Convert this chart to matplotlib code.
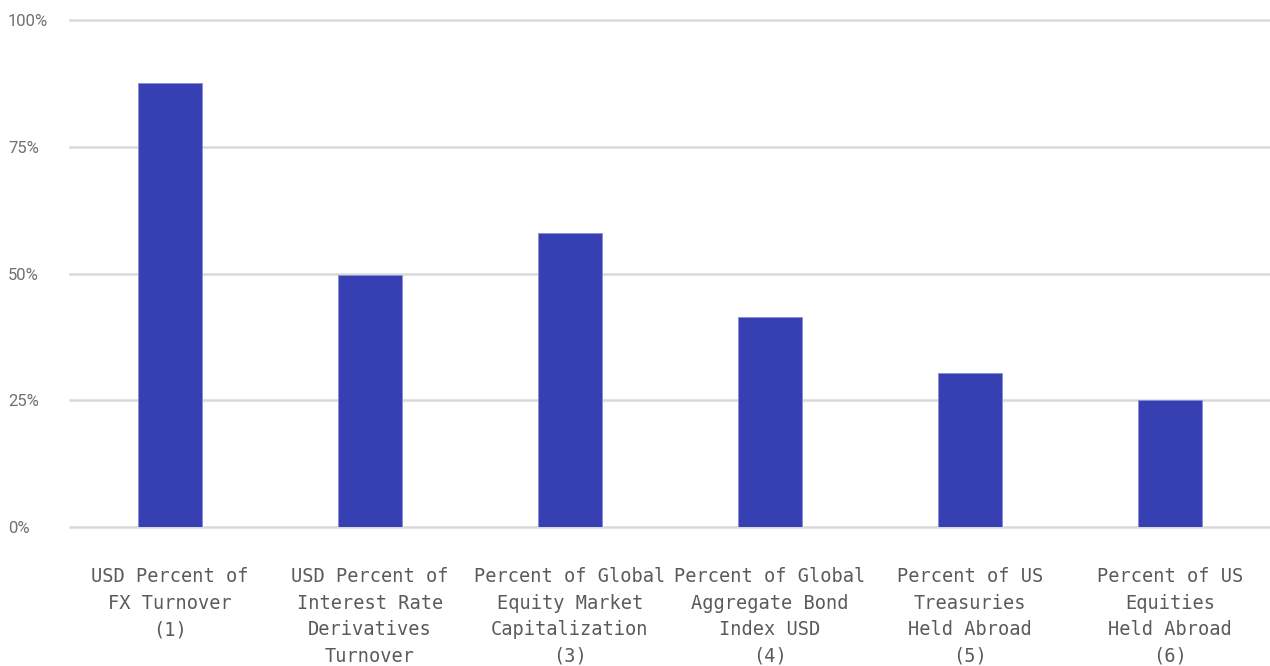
import numpy as np
import matplotlib.pyplot as plt
from matplotlib.ticker import FixedLocator

categories = [
    'USD Percent of\nFX Turnover\n(1)',
    'USD Percent of\nInterest Rate\nDerivatives\nTurnover',
    'Percent of Global\nEquity Market\nCapitalization\n(3)',
    'Percent of Global\nAggregate Bond\nIndex USD\n(4)',
    'Percent of US\nTreasuries\nHeld Abroad\n(5)',
    'Percent of US\nEquities\nHeld Abroad\n(6)',
]
values = [87.6, 49.8, 57.9, 41.5, 30.3, 25.0]
yticks = [0, 25, 50, 75, 100]
ytick_labels = ['0%', '25%', '50%', '75%', '100%']

bar_color = '#3740b2'
grid_color = '#d9d9d9'

fig = plt.figure(figsize=(12.7, 6.66), dpi=100)
ax = fig.add_axes([70/1270, 1 - 527/666, 1200/1270, 507/666])

x = np.arange(len(categories))
ax.bar(x, values, width=0.32, color=bar_color, edgecolor='#8a8fd6', linewidth=0.6, zorder=3)

ax.set_xlim(-0.5, len(categories) - 0.5)
ax.set_ylim(0, 100)
ax.yaxis.set_major_locator(FixedLocator(yticks))
ax.set_yticklabels(ytick_labels, family='Roboto', fontsize=12, color='#707070', ha='left')
# pad is in points: 62 px at 100 dpi
ax.tick_params(axis='y', length=0, pad=62 * 72 / 100)
ax.grid(axis='y', color=grid_color, linewidth=1.8, zorder=0)
for ln in ax.get_ygridlines():
    ln.set_clip_on(False)

ax.set_xticks(x)
ax.set_xticklabels(categories, family='DejaVu Sans Mono', fontsize=13.4, color='#5a5a5a',
                   linespacing=1.5)
ax.tick_params(axis='x', length=0, pad=29)

for s in ax.spines.values():
    s.set_visible(False)

fig.savefig('out.png', dpi=100)
